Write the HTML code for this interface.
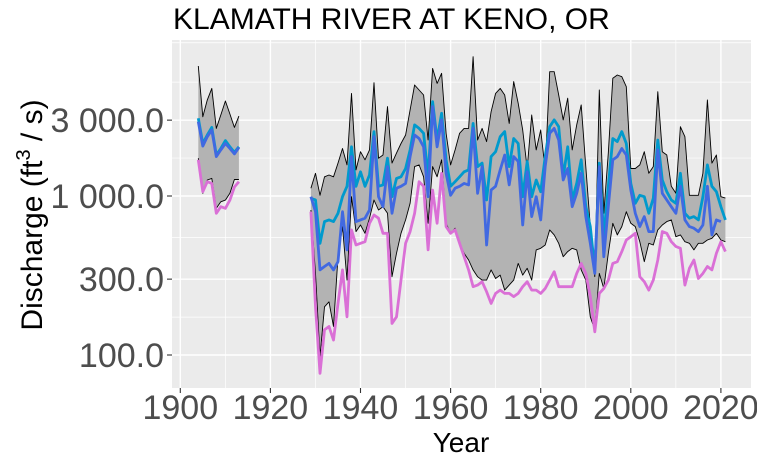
<!DOCTYPE html>
<html><head><meta charset="utf-8"><style>
html,body{margin:0;padding:0;background:#fff;}
svg{display:block;font-family:"Liberation Sans",Arial,sans-serif;}
</style></head><body>
<svg id="chart" width="757" height="464" viewBox="0 0 757 464" xmlns="http://www.w3.org/2000/svg">
<text x="173" y="29" font-size="30" fill="#000">KLAMATH RIVER AT KENO, OR</text>
<rect x="172" y="40" width="579" height="348" fill="#ebebeb"/>
<g id="grid"></g>
<g id="series"></g>
<g id="axes"></g>
<text x="461" y="452" font-size="28" text-anchor="middle" fill="#000">Year</text>
<text transform="translate(42,215) rotate(-90)" font-size="30" text-anchor="middle" fill="#000">Discharge (ft<tspan dy="-12" font-size="20">3</tspan><tspan dy="12"> / s)</tspan></text>
</svg>
<script>
const yTickValues = [100, 300, 1000, 3000];
const yTickLabels = ["100.0", "300.0", "1 000.0", "3 000.0"];
const yMinorValues = [173, 548, 1732, 5200, 9200];
const xTickValues = [1900, 1920, 1940, 1960, 1980, 2000, 2020];
const xTickLabels = ["1900", "1920", "1940", "1960", "1980", "2000", "2020"];
const xMinorValues = [1910, 1930, 1950, 1970, 1990, 2010];
const earlyStart = 1904, earlyEnd = 1913, mainStart = 1929, mainEnd = 2021;

const upperValues = [6570,3150,4020,4750,2660,3230,3960,3280,2700,3180,
1120,1390,1010,1320,1355,1320,1610,1990,1570,4420,
1460,1900,1690,1950,5160,1730,1810,3650,1610,1860,
2140,2420,3480,4990,4640,4320,2250,6350,5110,5910,
2480,1570,1950,2480,2660,2660,7520,2250,2660,2200,
3390,4420,4750,4320,2860,5240,3830,2600,1490,3230,
1950,2600,1460,6050,6050,4320,3010,4120,1950,2800,
3740,1530,642,311,4640,778,1860,5500,5770,5630,
4870,1490,1490,1570,1900,1390,1530,4530,1900,1810,
1150,1040,2730,2360,1010,1010,1010,1390,4020,1610,
1810,990,970];
const lowerValues = [1730,1040,1260,1290,837,920,943,1040,1270,1270,
817,326,97.7,201,216,151,415,642,296,990,
597,657,583,725,944,817,857,778,311,436,
583,707,900,1530,1570,1320,673,1530,1320,1690,
673,583,627,504,436,396,343,311,296,296,
343,303,318,256,275,296,377,318,351,296,
458,469,492,612,569,504,415,447,469,458,
343,296,174,144,326,262,436,673,569,642,
797,673,642,516,386,504,492,612,657,690,
707,555,569,516,504,458,504,504,529,542,
583,529,516];
const meanValues = [3080,2140,2420,2700,1810,1990,2230,2040,1880,2040,
967,944,504,690,707,690,778,990,1150,2040,
1150,1420,1150,1355,2540,1150,1175,1730,990,1290,
1320,1490,1950,2800,2660,2480,1320,3920,2250,3310,
1690,1150,1230,1320,1420,1460,2860,1530,1610,944,
1770,1900,2360,2540,1530,2300,2140,990,1650,990,
1260,1065,1770,2730,3010,2730,1320,2040,944,1200,
1690,857,642,343,1610,555,1150,2300,2200,2540,
2140,1200,900,1010,990,778,967,2250,1260,1065,
944,900,1390,778,725,742,707,990,1570,1150,
1065,857,707];
const medianValues = [2930,2060,2360,2600,1770,1950,2140,1990,1840,2020,
990,797,343,360,377,343,386,797,458,1770,
690,707,725,817,2360,990,857,1530,778,1120,
1150,1200,1770,2420,2300,2040,990,3650,2040,3010,
1390,1010,1120,1150,1200,1175,2660,1040,1530,492,
1090,1150,1460,1810,1175,1770,1650,657,1420,742,
990,707,1530,2480,2660,2250,1260,1490,857,1040,
1390,742,504,326,1530,415,857,1690,1770,1990,
1810,1090,778,642,742,597,597,1950,1040,944,
857,778,1150,707,642,627,597,657,1150,569,
707,690,null];
const lowFlowValues = [1690,1065,1230,1200,778,857,837,943,1140,1230,
797,201,76.7,144,151,124,211,343,174,612,
492,504,516,673,760,725,583,583,158,174,
296,504,597,778,1230,1150,458,1090,673,1390,
642,583,612,504,415,343,269,275,289,250,
211,244,256,244,244,233,244,269,289,256,
256,244,262,296,334,269,269,269,269,326,
377,326,233,140,244,262,296,377,386,447,
529,555,583,311,289,256,296,396,597,583,
516,481,469,275,351,396,303,326,360,343,
436,516,447];

const NS = "http://www.w3.org/2000/svg";
const years = [];
for (let y = earlyStart; y <= earlyEnd; y++) years.push(y);
for (let y = mainStart; y <= mainEnd; y++) years.push(y);

function xScale(yr) { return 180.3 + (yr - 1900) * 4.505; }
function yScale(v) { return 196 - 159 * Math.log10(v / 1000); }

const grid = document.getElementById('grid');
const axes = document.getElementById('axes');
const layer = document.getElementById('series');
function mk(tag, attrs, parent) {
  const e = document.createElementNS(NS, tag);
  for (const k in attrs) e.setAttribute(k, attrs[k]);
  parent.appendChild(e);
  return e;
}
yMinorValues.forEach(v => {
  const l = mk('line', {x1: 172, x2: 751, y1: yScale(v), y2: yScale(v), stroke: '#fff', 'stroke-width': 0.7}, grid);
  
  
});
xMinorValues.forEach(v => {
  const l = mk('line', {x1: xScale(v), x2: xScale(v), y1: 40, y2: 388, stroke: '#fff', 'stroke-width': 0.7}, grid);
  
  
});
yTickValues.forEach((v, i) => {
  const y = yScale(v);
  const l = mk('line', {x1: 172, x2: 751, y1: y, y2: y, stroke: '#fff', 'stroke-width': 1.4}, grid);
  
  
  const t = mk('line', {x1: 167, x2: 172, y1: y, y2: y, stroke: '#333', 'stroke-width': 1.1}, axes);
  
  
  const tx = mk('text', {x: 164, y: y + 12, 'font-size': 34, 'text-anchor': 'end', fill: '#4d4d4d'}, axes);
  tx.textContent = yTickLabels[i];
  
  
});
xTickValues.forEach((v, i) => {
  const x = xScale(v);
  const l = mk('line', {x1: x, x2: x, y1: 40, y2: 388, stroke: '#fff', 'stroke-width': 1.4}, grid);
  
  
  const t = mk('line', {x1: x, x2: x, y1: 388, y2: 393, stroke: '#333', 'stroke-width': 1.1}, axes);
  
  
  const tx = mk('text', {x: x, y: 419, 'font-size': 34, 'text-anchor': 'middle', fill: '#4d4d4d'}, axes);
  tx.textContent = xTickLabels[i];
  
  
});

function segments(vals) {
  const segs = []; let cur = [];
  years.forEach((yr, i) => {
    const v = vals[i];
    const prev = i > 0 ? years[i - 1] : null;
    if (v == null || (prev !== null && yr - prev > 1)) { if (cur.length) segs.push(cur); cur = []; }
    if (v != null) cur.push([xScale(yr), yScale(v), i]);
  });
  if (cur.length) segs.push(cur);
  return segs;
}
segments(upperValues).forEach(seg => {
  const up = seg.map(p => p[0].toFixed(1) + ',' + p[1].toFixed(1));
  const lo = seg.slice().reverse().map(p => xScale(years[p[2]]).toFixed(1) + ',' + yScale(lowerValues[p[2]]).toFixed(1));
  const r = mk('polygon', {points: up.concat(lo).join(' '), fill: '#b3b3b3', stroke: 'none'}, layer);
  
  
});
function drawLine(vals, color, width, name) {
  segments(vals).forEach(seg => {
    const l = mk('polyline', {points: seg.map(p => p[0].toFixed(1) + ',' + p[1].toFixed(1)).join(' '), fill: 'none', stroke: color, 'stroke-width': width, 'stroke-linejoin': 'round'}, layer);
    
    
  });
}
drawLine(upperValues, '#000', 0.9, 'max-line');
drawLine(lowerValues, '#000', 0.9, 'min-line');
drawLine(lowFlowValues, '#da70d6', 2.8, 'low-flow-line');
drawLine(meanValues, '#009acd', 2.8, 'mean-line');
drawLine(medianValues, '#4169e1', 2.8, 'median-line');
</script>
</body></html>
